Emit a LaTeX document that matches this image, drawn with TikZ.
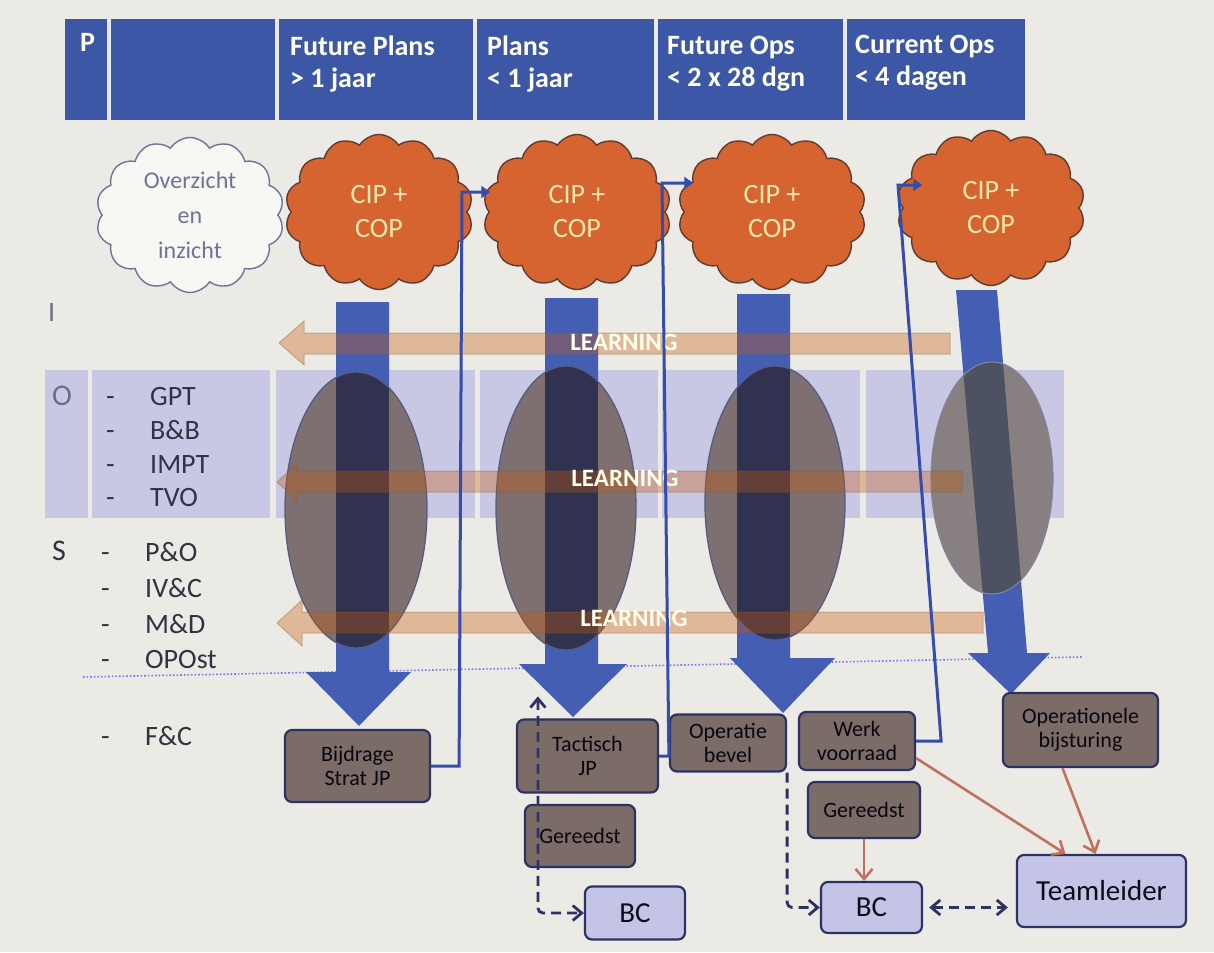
\documentclass[tikz,border=0pt]{standalone}
\usepackage{fontspec}
\setmainfont{Carlito}
\usetikzlibrary{shapes.symbols,arrows.meta}
\definecolor{bgc}{RGB}{236,234,228}
\definecolor{hdr}{RGB}{59,87,166}
\definecolor{lav}{RGB}{200,200,229}
\definecolor{barr}{RGB}{68,94,180}
\definecolor{ellc}{RGB}{126,112,112}
\definecolor{ellc4}{RGB}{136,128,128}
\definecolor{shdk}{RGB}{48,50,80}
\definecolor{shdk4}{RGB}{76,82,98}
\definecolor{learnc}{RGB}{200,90,10}
\definecolor{orng}{RGB}{214,100,48}
\definecolor{cloudln}{RGB}{95,60,50}
\definecolor{ovz}{RGB}{110,116,150}
\definecolor{navy}{RGB}{44,50,100}
\definecolor{boxbr}{RGB}{124,108,104}
\definecolor{boxlt}{RGB}{196,196,230}
\definecolor{fbc}{RGB}{52,76,172}
\definecolor{brn}{RGB}{192,112,96}
\definecolor{labc}{RGB}{50,50,66}
\definecolor{labg}{RGB}{110,110,130}
\definecolor{cream}{RGB}{246,232,170}
\tikzset{
  hdrtxt/.style={anchor=north west, inner sep=0pt, text=white!94!yellow, align=left,
    font=\bfseries\fontsize{28}{32}\selectfont},
  cloudbase/.style={cloud, cloud puffs=14, cloud puff arc=115, aspect=1.2,
    minimum width=188pt, minimum height=155pt, inner sep=0pt, align=center},
  cipcloud/.style={cloudbase, fill=orng, draw=cloudln, line width=1.4pt, text=cream,
    font=\fontsize{28}{34}\selectfont},
  ovzcloud/.style={cloudbase, fill=white!60!bgc, draw=ovz, line width=1.4pt, text=ovz,
    font=\fontsize{24}{35}\selectfont},
  brbox/.style={rectangle, rounded corners=7pt, fill=boxbr, draw=navy, line width=2.2pt,
    text=black!85!navy, align=center, inner sep=0pt, font=\fontsize{22}{24}\selectfont},
  ltbox/.style={rectangle, rounded corners=7pt, fill=boxlt, draw=navy, line width=2.2pt,
    text=black!75!navy, align=center, inner sep=0pt, font=\fontsize{29}{30}\selectfont},
  lab/.style={anchor=west, inner sep=0pt, text=labc, text height=18pt, text depth=0pt,
    font=\fontsize{28}{30}\selectfont},
  learntxt/.style={inner sep=0pt, text=white!92!yellow, font=\bfseries\fontsize{25}{28}\selectfont},
  learnarr/.style={fill=learnc, fill opacity=0.34, draw=brown!70!black, draw opacity=0.35, line width=1pt},
  fb/.style={draw=fbc, line width=3pt, -{Triangle[length=9pt,width=12pt]}},
  dsh/.style={draw=navy, line width=2.8pt, dash pattern=on 10pt off 6pt, rounded corners=5pt},
  brarr/.style={draw=brn, line width=2.6pt, -{Straight Barb[length=10pt,width=17pt]}},
  barb/.tip={Straight Barb[length=9pt,width=15pt]},
}
\begin{document}
\begin{tikzpicture}[x=1pt,y=-1pt]
\useasboundingbox (0,0) rectangle (1214,952);
\fill[bgc] (0,0) rectangle (1214,952);
% header
\foreach \a/\b in {65/107,111/275,279/473,477/654,658/843,847/1025}
  \fill[hdr] (\a,19) rectangle (\b,120);
\node[hdrtxt] (hP) at (80,33) {P};
\node[hdrtxt] (hFP) at (290,36) {Future Plans\\> 1 jaar};
\node[hdrtxt] (hPl) at (487,36) {Plans\\< 1 jaar};
\node[hdrtxt] (hFO) at (667,36) {Future Ops\\< 2 x 28 dgn};
\node[hdrtxt] (hCO) at (855,35) {Current Ops\\< 4 dagen};
% lavender band
\foreach \a/\b in {45/88,92/270,276/475,480/658,662/860,866/1064}
  \fill[lav] (\a,370) rectangle (\b,518);
\draw[lav!60!blue, line width=1.6pt, dotted] (83,677) -- (1082,657);
% blue arrows
\fill[barr] (336,302) -- (389,302) -- (389,672) -- (411,672) -- (359,726) -- (306,672) -- (336,672) -- cycle;
\fill[barr] (545,298) -- (598,298) -- (598,664) -- (627,664) -- (573,717) -- (519,664) -- (545,664) -- cycle;
\fill[barr] (737,294) -- (790,294) -- (790,658) -- (835,658) -- (783,713) -- (730,658) -- (737,658) -- cycle;
\fill[barr] (956,290) -- (997,290) -- (1027,653) -- (1050,653) -- (1011,694) -- (968,653) -- (988,653) -- cycle;
% ellipses
\fill[ellc] (356,510) ellipse [x radius=71, y radius=138];
\fill[ellc] (566,508) ellipse [x radius=70, y radius=142];
\fill[ellc] (775,503) ellipse [x radius=70, y radius=137];
\fill[ellc4] (992,478) ellipse [x radius=61, y radius=116];
\begin{scope}
  \clip (356,510) ellipse [x radius=71, y radius=138];
  \fill[shdk] (336,300) rectangle (389,672);
\end{scope}
\begin{scope}
  \clip (566,508) ellipse [x radius=70, y radius=142];
  \fill[shdk] (545,296) rectangle (598,664);
\end{scope}
\begin{scope}
  \clip (775,503) ellipse [x radius=70, y radius=137];
  \fill[shdk] (737,292) rectangle (790,658);
\end{scope}
\begin{scope}
  \clip (992,478) ellipse [x radius=61, y radius=116];
  \fill[shdk4] (956,290) -- (997,290) -- (1027,653) -- (988,653) -- cycle;
\end{scope}
\draw[navy!80, line width=1.3pt] (356,510) ellipse [x radius=71, y radius=138];
\draw[navy!80, line width=1.3pt] (566,508) ellipse [x radius=70, y radius=142];
\draw[navy!80, line width=1.3pt] (775,503) ellipse [x radius=70, y radius=137];
\draw[navy!60, line width=1.1pt] (992,478) ellipse [x radius=61, y radius=116];
% learning arrows
\filldraw[learnarr] (950,333) -- (304,333) -- (304,321) -- (279,343) -- (304,365) -- (304,354) -- (950,354) -- cycle;
\filldraw[learnarr] (962,471) -- (297,471) -- (297,464) -- (277,482) -- (297,500) -- (297,492) -- (962,492) -- cycle;
\filldraw[learnarr] (983,612) -- (302,612) -- (302,600) -- (277,623) -- (302,646) -- (302,633) -- (983,633) -- cycle;
\node[learntxt] (L1) at (624,342) {LEARNING};
\node[learntxt] (L2) at (625,478) {LEARNING};
\node[learntxt] (L3) at (634,618) {LEARNING};
% clouds
\node[ovzcloud] (ovc) at (190,215) {Overzicht\\en\\inzicht};
\node[cipcloud] (c1) at (379,212) {CIP +\\COP};
\node[cipcloud] (c2) at (577,212) {CIP +\\COP};
\node[cipcloud] (c3) at (772,212) {CIP +\\COP};
\node[cipcloud] (c4) at (991,208) {CIP +\\COP};
% boxes
\node[brbox, minimum width=145pt, minimum height=72pt] (bij) at (357.5,766) {Bijdrage\\Strat JP};
\node[brbox, minimum width=141pt, minimum height=73pt] (tac) at (587.5,756) {Tactisch\\JP};
\node[brbox, minimum width=116pt, minimum height=57pt] (opb) at (728,743) {Operatie\\bevel};
\node[brbox, minimum width=116pt, minimum height=58pt] (werk) at (857,741) {Werk\\voorraad};
\node[brbox, minimum width=110pt, minimum height=62pt] (ger1) at (580,836) {Gereedst};
\node[brbox, minimum width=112pt, minimum height=56pt] (ger2) at (864,810) {Gereedst};
\node[brbox, minimum width=155pt, minimum height=74pt] (opbij) at (1080.5,730) {Operationele\\bijsturing};
\node[ltbox, minimum width=100pt, minimum height=53pt] (bc1) at (635,913) {BC};
\node[ltbox, minimum width=101pt, minimum height=51pt] (bc2) at (871.5,907.5) {BC};
\node[ltbox, minimum width=169pt, minimum height=72pt] (team) at (1101.5,891) {Teamleider};
% feedback connectors
\coordinate (t1) at (462,192);
\coordinate (t2) at (662,183);
\coordinate (t3) at (898,185);
\draw[fb] (bij.east) -- ++(28,0) -- (t1) -- ([xshift=2pt]t1 -| c2.west);
\draw[fb] (tac.east) -- (tac.east -| opb.west) -- (t2) -- ([xshift=10pt]t2 -| c3.west);
\draw[fb] (werk.east) -- ++(25,0) -- (t3) -- ([xshift=20pt]t3 -| c4.west);
% dashed connectors
\coordinate (d1) at ([xshift=22pt,yshift=22pt]tac.north west);
\draw[dsh, barb-barb] (d1) -- (d1 |- bc1.west) -- (bc1.west);
\draw[dsh, -barb] (opb.south east) -- (opb.south east |- bc2.west) -- (bc2.west);
\draw[dsh, barb-barb] ([xshift=6pt]bc2.east) -- ([xshift=-8pt]bc2.east -| team.west);
% brown arrows
\draw[brarr] ([yshift=13pt]werk.south east) -- ([xshift=-36pt]team.north);
\draw[brarr] ([xshift=-18pt]opbij.south) -- ([xshift=-6pt]team.north);
\draw[brarr] (ger2.south) -- (ger2.south |- bc2.north);
% left labels
\node[lab, text=labg] (lI) at (48,312) {I};
\node[lab, text=labg, font=\fontsize{30}{32}\selectfont] (lO) at (52,396) {O};
\node[lab] (dg1) at (106,396) {-};
\node[lab] (gpt) at (150,396) {GPT};
\node[lab] (dg2) at (106,430) {-};
\node[lab] (bb) at (150,430) {B\&B};
\node[lab] (dg3) at (106,464) {-};
\node[lab] (impt) at (150,464) {IMPT};
\node[lab] (dg4) at (106,497) {-};
\node[lab] (tvo) at (150,497) {TVO};
\node[lab, font=\fontsize{30}{32}\selectfont] (lS) at (52,551) {S};
\node[lab] (ds1) at (101,552) {-};
\node[lab] (po) at (145,552) {P\&O};
\node[lab] (ds2) at (101,588) {-};
\node[lab] (ivc) at (145,588) {IV\&C};
\node[lab] (ds3) at (101,624) {-};
\node[lab] (md) at (145,624) {M\&D};
\node[lab] (ds4) at (101,659) {-};
\node[lab] (opost) at (145,659) {OPOst};
\node[lab] (ds5) at (101,736) {-};
\node[lab] (fc) at (145,736) {F\&C};
\end{tikzpicture}
\end{document}
